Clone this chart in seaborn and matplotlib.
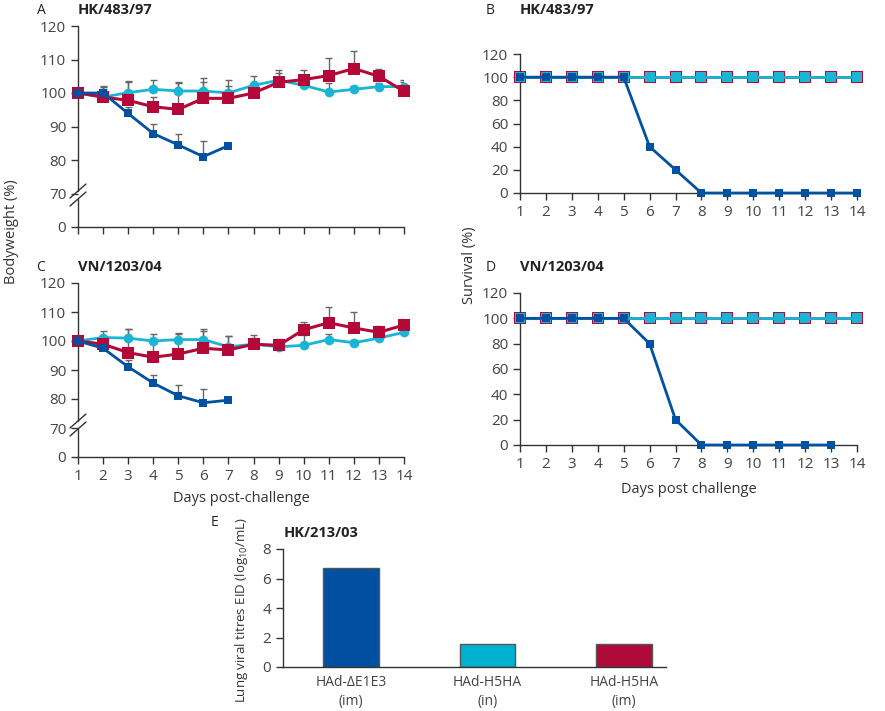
import numpy as np
import pandas as pd
import seaborn as sns
from matplotlib import pyplot as plt

sns.set_style('ticks')
plt.rcParams['font.family'] = ['Open Sans', 'DejaVu Sans']
plt.rcParams['mathtext.fontset'] = 'custom'
plt.rcParams['mathtext.rm'] = 'Open Sans'
plt.rcParams['mathtext.it'] = 'Open Sans'

BLUE, CYAN, RED = '#0052A0', '#1AB4D4', '#B30838'
GREY = '#333333'
ERRC = '#666666'

days = np.arange(1, 15)

# bodyweight, HK/483/97 (panel A)
a_blue = [100, 100, 93.9, 87.9, 84.5, 81.0, 84.3]
a_blue_err = [0, 2.1, 2.0, 2.8, 3.2, 4.6, 0]
a_cyan = [100, 98.8, 100.1, 101.1, 100.6, 100.6, 100.0, 102.3, 103.8, 102.3, 100.3, 101.1, 101.9, 101.9]
a_cyan_err = [0, 3.0, 3.5, 2.7, 2.6, 3.8, 4.0, 2.8, 2.3, 1.5, 2.8, 1.1, 1.0, 1.5]
a_red = [100, 98.8, 97.8, 95.9, 95.1, 98.4, 98.4, 100.0, 103.2, 104.0, 105.2, 107.3, 105.0, 100.5]
a_red_err = [0, 2.5, 5.5, 3.0, 8.0, 4.8, 3.8, 2.0, 3.7, 2.9, 5.2, 5.3, 2.1, 3.3]

# bodyweight, VN/1203/04 (panel C)
c_blue = [100, 97.5, 91.1, 85.5, 81.1, 78.7, 79.6]
c_blue_err = [0, 1.0, 2.5, 2.8, 3.8, 4.6, 0]
c_cyan = [100, 101.2, 101.0, 100.0, 100.5, 100.5, 98.0, 98.9, 98.0, 98.5, 100.5, 99.4, 101.0, 103.0]
c_cyan_err = [0, 2.1, 3.3, 2.4, 2.2, 3.5, 3.8, 2.0, 2.0, 3.4, 2.0, 1.0, 1.5, 1.0]
c_red = [100, 98.9, 96.0, 94.4, 95.5, 97.5, 96.9, 98.9, 98.5, 103.9, 106.3, 104.5, 103.0, 105.5]
c_red_err = [0, 1.5, 8.0, 6.0, 7.0, 6.0, 4.8, 3.0, 2.2, 2.7, 5.3, 5.4, 2.1, 2.0]

# survival
b_blue = [100, 100, 100, 100, 100, 40, 20, 0, 0, 0, 0, 0, 0, 0]
d_blue = [100, 100, 100, 100, 100, 80, 20, 0, 0, 0, 0, 0, 0]
surv_cyan = [100] * 14
surv_red = [100] * 14

# lung titres (panel E)
e_groups = ['HAd-ΔE1E3\n(im)', 'HAd-H5HA\n(in)', 'HAd-H5HA\n(im)']
e_values = [6.7, 1.55, 1.55]
e_colors = ['#0050A0', '#00B2D0', '#B00A3A']

W, H = 885, 711
fig = plt.figure(figsize=(W / 100, H / 100), dpi=100)


def px_axes(l, t, r, b):
    return fig.add_axes([l / W, 1 - b / H, (r - l) / W, (b - t) / H])


def style(ax):
    sns.despine(ax=ax)
    for s in ['left', 'bottom']:
        ax.spines[s].set_color(GREY)
        ax.spines[s].set_linewidth(1)
    ax.tick_params(colors=GREY, labelcolor='#444444', labelsize=11, length=5, width=1)


def err_up(ax, x, y, e):
    x, y, e = np.asarray(x, float), np.asarray(y, float), np.asarray(e, float)
    m = e > 0
    ax.vlines(x[m], y[m], y[m] + e[m], color=ERRC, lw=1, zorder=1)
    ax.hlines(y[m] + e[m], x[m] - 0.14, x[m] + 0.14, color=ERRC, lw=1, zorder=1)


def weight_panel(ax, blue, blue_e, cyan, cyan_e, red, red_e, labels):
    err_up(ax, days[:len(blue)], blue, blue_e)
    err_up(ax, days, cyan, cyan_e)
    err_up(ax, days, red, red_e)
    sns.lineplot(x=days, y=cyan, color=CYAN, marker='o', markersize=7, markeredgewidth=0,
                 linewidth=2, ax=ax, zorder=3, clip_on=False)
    sns.lineplot(x=days, y=red, color=RED, marker='s', markersize=9, markeredgewidth=0,
                 linewidth=2.2, ax=ax, zorder=4, clip_on=False)
    sns.lineplot(x=days[:len(blue)], y=blue, color=BLUE, marker='s', markersize=5.5,
                 markeredgewidth=0, linewidth=2, ax=ax, zorder=5, clip_on=False)
    ax.set_xlim(1, 14)
    ax.set_ylim(60, 120)
    ax.set_yticks([60, 70, 80, 90, 100, 110, 120])
    ax.set_yticklabels(['0', '70', '80', '90', '100', '110', '120'])
    ax.set_xticks(days)
    style(ax)
    if labels:
        ax.set_xticklabels([str(d) for d in days])
    else:
        ax.set_xticklabels([])
    ax.tick_params(axis='x', labelsize=11)
    ax.set_xlabel('')
    ax.set_ylabel('')
    # broken y axis
    ax.spines['left'].set_visible(False)
    hpx = ax.get_position().height * H
    upx = 60 / hpx
    tr = ax.get_yaxis_transform()
    c1, c2 = 60 + 36 * upx, 60 + 28 * upx
    ax.plot([0, 0], [c1, 120], color=GREY, lw=1, transform=tr, clip_on=False)
    ax.plot([0, 0], [60, c2], color=GREY, lw=1, transform=tr, clip_on=False)
    dx = 8 / (ax.get_position().width * W)
    for c in (c1, c2):
        ax.plot([-dx, dx], [c - 7 * upx, c + 7 * upx], color=GREY, lw=1,
                transform=tr, clip_on=False)


def survival_panel(ax, blue, labels_x):
    sns.lineplot(x=days, y=surv_red, color=RED, marker='s', markersize=9, markeredgewidth=0,
                 linewidth=2, ax=ax, zorder=2, clip_on=False)
    sns.lineplot(x=days, y=surv_cyan, color=CYAN, marker='s', markersize=6.5, markeredgewidth=0,
                 linewidth=2, ax=ax, zorder=3, clip_on=False)
    sns.lineplot(x=days[:len(blue)], y=blue, color=BLUE, marker='s', markersize=5.5,
                 markeredgewidth=0, linewidth=2, ax=ax, zorder=4, clip_on=False)
    ax.set_xlim(1, 14)
    ax.set_ylim(0, 120)
    ax.set_yticks(range(0, 121, 20))
    ax.set_xticks(days)
    style(ax)
    ax.tick_params(axis='x', labelsize=11)
    ax.set_ylabel('')
    ax.set_xlabel(labels_x, fontsize=10.5, color='#333333', labelpad=7)


axA = px_axes(78, 26, 404, 227)
weight_panel(axA, a_blue, a_blue_err, a_cyan, a_cyan_err, a_red, a_red_err, False)
axC = px_axes(78, 283, 404, 457)
weight_panel(axC, c_blue, c_blue_err, c_cyan, c_cyan_err, c_red, c_red_err, True)
axC.set_xlabel('Days post-challenge', fontsize=10.5, color='#333333', labelpad=5)

axB = px_axes(520, 54, 857, 193)
survival_panel(axB, b_blue, '')
axD = px_axes(520, 293, 857, 445)
survival_panel(axD, d_blue, 'Days post challenge')

axE = px_axes(283, 549, 666, 667)
df_e = pd.DataFrame({'group': e_groups, 'titre': e_values})
sns.barplot(data=df_e, x='group', y='titre', hue='group', palette=e_colors, legend=False,
            width=0.41, saturation=1, edgecolor='#555555', linewidth=1, ax=axE)
axE.set_xlim(-0.5, 2.31)
axE.set_ylim(0, 8)
axE.set_yticks([0, 2, 4, 6, 8])
style(axE)
axE.tick_params(axis='x', length=0, pad=6, labelsize=10)
for t in axE.get_xticklabels():
    t.set_linespacing(1.3)
axE.set_xlabel('')
axE.set_ylabel('')

# panel letters, titles and shared labels
lab = dict(fontsize=10, color='#222222', va='center')
ttl = dict(fontsize=10.5, color='#222222', fontweight='bold', va='center')
fig.text(37 / W, 1 - 10 / H, 'A', **lab)
fig.text(78 / W, 1 - 10 / H, 'HK/483/97', **ttl)
fig.text(486 / W, 1 - 10 / H, 'B', **lab)
fig.text(520 / W, 1 - 10 / H, 'HK/483/97', **ttl)
fig.text(36 / W, 1 - 267 / H, 'C', **lab)
fig.text(78 / W, 1 - 267 / H, 'VN/1203/04', **ttl)
fig.text(486 / W, 1 - 267 / H, 'D', **lab)
fig.text(520 / W, 1 - 267 / H, 'VN/1203/04', **ttl)
fig.text(211 / W, 1 - 522 / H, 'E', **lab)
fig.text(284 / W, 1 - 533 / H, 'HK/213/03', **ttl)

fig.text(12 / W, 1 - 232 / H, 'Bodyweight (%)', rotation=90, ha='center', va='center',
         fontsize=10.5, color='#333333')
fig.text(469 / W, 1 - 265 / H, 'Survival (%)', rotation=90, ha='center', va='center',
         fontsize=10.5, color='#333333')
fig.text(241 / W, 1 - 610 / H, 'Lung viral titres EID (log$_{10}$/mL)', rotation=90,
         ha='center', va='center', fontsize=9.5, color='#333333')

fig.savefig('out.png', dpi=100)
